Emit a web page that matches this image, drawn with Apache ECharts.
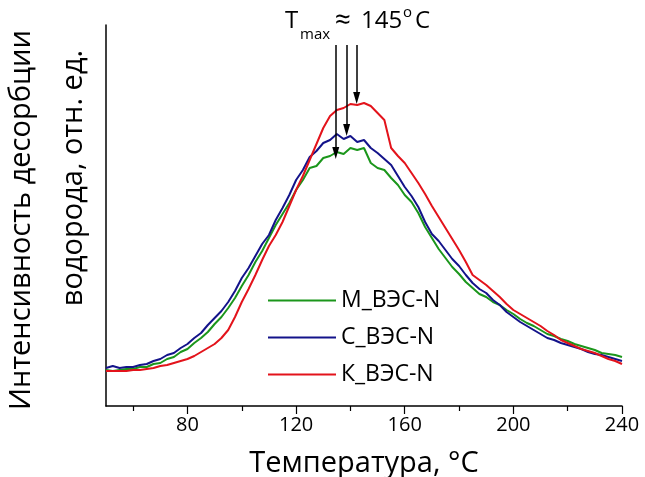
<!DOCTYPE html>
<html>
<head>
<meta charset="utf-8">
<script src="https://cdn.jsdelivr.net/npm/echarts@6/dist/echarts.min.js"></script>
<style>
  html, body { margin: 0; padding: 0; background: #fff; }
  #chart { width: 645px; height: 477px; }
</style>
</head>
<body>
<div id="chart"></div>
<script>
// temperature, deg C
const temps = [50, 52.5, 55, 57.5, 60, 62.5, 65, 67.5, 70, 72.5, 75, 77.5, 80, 82.5, 85, 87.5, 90, 92.5,
  95, 97.5, 100, 102.5, 105, 107.5, 110, 112.5, 115, 117.5, 120, 122.5, 125, 127.5, 130, 132.5, 135, 137.5,
  140, 142.5, 145, 147.5, 150, 152.5, 155, 157.5, 160, 162.5, 165, 167.5, 170, 172.5, 175, 177.5, 180, 182.5,
  185, 187.5, 190, 192.5, 195, 197.5, 200, 202.5, 205, 207.5, 210, 212.5, 215, 217.5, 220, 222.5, 225, 227.5,
  230, 232.5, 235, 237.5, 240];

const seriesNames = ['М_ВЭС-N', 'С_ВЭС-N', 'К_ВЭС-N'];

// intensity, arb. units
const mValues = [36, 35, 36, 37, 37, 39, 39, 42, 43, 47, 49, 54, 57, 63, 68, 74, 82, 89,
  98, 108, 120, 131, 144, 155, 168, 181, 192, 203, 216, 226, 238, 240, 248, 250, 254, 252,
  258, 256, 258, 243, 238, 236, 228, 221, 211, 204, 193, 179, 168, 157, 148, 139, 132, 124,
  118, 112, 109, 104, 101, 96, 92, 87, 83, 80, 76, 72, 70, 67, 65, 62, 60, 58,
  56, 53, 52, 51, 49];
const cValues = [38, 40, 38, 39, 39, 41, 42, 45, 47, 51, 53, 58, 62, 68, 73, 81, 88, 95,
  104, 115, 128, 138, 150, 162, 171, 186, 198, 211, 226, 236, 249, 255, 263, 266, 272, 267,
  270, 264, 266, 258, 253, 247, 241, 230, 219, 210, 199, 184, 172, 165, 156, 147, 140, 131,
  123, 117, 113, 106, 101, 94, 89, 84, 80, 76, 72, 68, 66, 63, 61, 59, 57, 54,
  52, 51, 49, 47, 45];
const kValues = [35, 35, 35, 35, 36, 36, 37, 38, 40, 41, 43, 45, 47, 50, 54, 58, 62, 68,
  76, 89, 104, 117, 131, 146, 160, 171, 184, 200, 216, 230, 246, 262, 278, 290, 296, 298,
  302, 301, 303, 300, 293, 286, 258, 250, 243, 233, 223, 212, 200, 189, 178, 167, 156, 144,
  131, 126, 121, 115, 109, 102, 96, 92, 88, 84, 80, 75, 71, 66, 63, 60, 57, 55,
  53, 50, 47, 45, 42];

const majorTicks = [80, 120, 160, 200, 240];
const minorTicks = [60, 100, 140, 180, 220];

// T_max arrows: [temperature, top, tip]
const arrows = [[134.6, 361, 253], [138.6, 361, 276], [142.3, 361, 308]];

const colors = ['#1b961b', '#13138a', '#e3131b'];
const font = 'Open Sans';

const chart = echarts.init(document.getElementById('chart'));

const pair = vals => temps.map((t, i) => [t, vals[i]]);

const option = {
  animation: false,
  color: colors,
  textStyle: { fontFamily: font, color: '#000' },
  grid: { left: 106, right: 23, top: 25, bottom: 71, outerBoundsMode: 'none' },
  legend: {
    orient: 'vertical',
    left: 262,
    top: 284,
    itemWidth: 68,
    itemHeight: 20,
    itemGap: 14,
    data: seriesNames,
    itemStyle: { opacity: 0 },
    lineStyle: { width: 2 },
    textStyle: { fontFamily: font, fontSize: 23, color: '#000' }
  },
  xAxis: [{
    type: 'value',
    min: 50,
    max: 240,
    axisLine: { lineStyle: { color: '#000', width: 1.5 } },
    axisTick: { customValues: majorTicks, length: 8, lineStyle: { color: '#000', width: 1.2 } },
    axisLabel: { customValues: majorTicks, fontSize: 20, color: '#000', margin: 9, fontFamily: font },
    splitLine: { show: false },
    name: 'Температура, °C',
    nameLocation: 'middle',
    nameGap: 43,
    nameTextStyle: { fontSize: 29, color: '#000', fontFamily: font }
  }, {
    type: 'value',
    position: 'bottom',
    min: 50,
    max: 240,
    axisLine: { show: false },
    axisTick: { customValues: minorTicks, length: 5, lineStyle: { color: '#000', width: 1.2 } },
    axisLabel: { show: false },
    splitLine: { show: false }
  }],
  yAxis: {
    type: 'value',
    min: 0,
    max: 381,
    axisLine: { show: true, lineStyle: { color: '#000', width: 1.5 } },
    axisTick: { show: false },
    axisLabel: { show: false },
    splitLine: { show: false }
  },
  graphic: [
    { type: 'text', x: 22, y: 220, rotation: Math.PI / 2,
      style: { text: 'Интенсивность десорбции', font: '29px "Open Sans"', fill: '#000', align: 'center', verticalAlign: 'middle' } },
    { type: 'text', x: 74, y: 178, rotation: Math.PI / 2,
      style: { text: 'водорода, отн. ед.', font: '29px "Open Sans"', fill: '#000', align: 'center', verticalAlign: 'middle' } },
    { type: 'text', x: 285, y: 9, style: { text: 'T', font: '24px "Open Sans"', fill: '#000' } },
    { type: 'text', x: 300, y: 27, style: { text: 'max', font: '15px "Open Sans"', fill: '#000' } },
    { type: 'text', x: 335, y: 7, style: { text: '≈', font: '28px "Open Sans"', fill: '#000' } },
    { type: 'text', x: 361, y: 9, style: { text: '145', font: '24px "Open Sans"', fill: '#000' } },
    { type: 'text', x: 403, y: 5, style: { text: 'o', font: '15px "Open Sans"', fill: '#000' } },
    { type: 'text', x: 415, y: 9, style: { text: 'C', font: '24px "Open Sans"', fill: '#000' } }
  ],
  series: [
    {
      name: seriesNames[0], type: 'line', symbol: 'none', data: pair(mValues),
      lineStyle: { width: 2 },
      markLine: {
        silent: true,
        symbol: ['none', 'triangle'],
        symbolSize: [7, 12],
        label: { show: false },
        lineStyle: { color: '#000', width: 1.5, type: 'solid' },
        data: arrows.map(a => [{ coord: [a[0], a[1]] }, { coord: [a[0], a[2]] }])
      }
    },
    { name: seriesNames[1], type: 'line', symbol: 'none', data: pair(cValues), lineStyle: { width: 2 } },
    { name: seriesNames[2], type: 'line', symbol: 'none', data: pair(kValues), lineStyle: { width: 2 } }
  ]
};

chart.setOption(option);
</script>
</body>
</html>
